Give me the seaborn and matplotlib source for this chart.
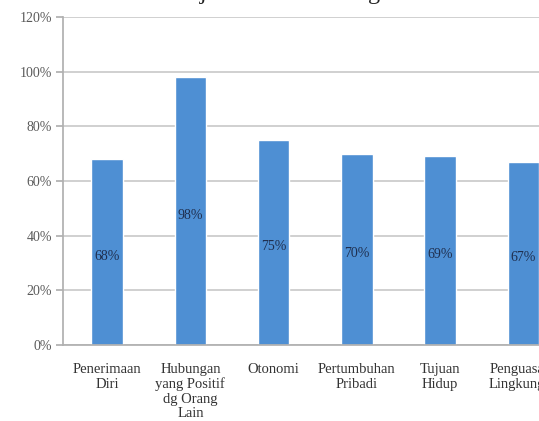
import matplotlib
matplotlib.use("Agg")
import matplotlib.pyplot as plt
import seaborn as sns
import pandas as pd

categories = ["Penerimaan\nDiri", "Hubungan\nyang Positif\ndg Orang\nLain", "Otonomi",
              "Pertumbuhan\nPribadi", "Tujuan\nHidup", "Penguasaan\nLingkungan"]
values = [68, 98, 75, 70, 69, 67]
value_labels = ["68%", "98%", "75%", "70%", "69%", "67%"]
y_ticks = [0, 20, 40, 60, 80, 100, 120]
y_ticklabels = ["0%", "20%", "40%", "60%", "80%", "100%", "120%"]
title = "Kesejahteraan Psikologis"

sns.set_theme(style="white")
plt.rcParams["font.family"] = ["Liberation Serif", "DejaVu Serif"]

W, H = 539, 421
fig = plt.figure(figsize=(W / 100, H / 100), dpi=100)
left_px, right_px, top_px, bottom_px = 63, 565, 17, 345
ax = fig.add_axes([left_px / W, 1 - bottom_px / H, (right_px - left_px) / W, (bottom_px - top_px) / H])

df = pd.DataFrame({"cat": categories, "val": values})
sns.barplot(data=df, x="cat", y="val", color="#4E8FD3", width=0.38, ax=ax, saturation=1)

for i, (v, lab) in enumerate(zip(values, value_labels)):
    ax.text(i, v / 2 - 1.5, lab, ha="center", va="center", fontsize=10, color="#1F2F4F")

ax.set_xlim(-0.53, 5.5)
ax.set_ylim(0, 120)
ax.set_yticks(y_ticks)
ax.set_yticklabels(y_ticklabels, fontsize=10, color="#5A5A5A")
ax.set_xticks(range(len(categories)))
ax.set_xticklabels(categories, fontsize=10.5, color="#333333", linespacing=1.15)
ax.set_xlabel("")
ax.set_ylabel("")
ax.yaxis.grid(True, color="#C8C8C8", linewidth=1.2)
ax.set_axisbelow(True)
for s in ["top", "right"]:
    ax.spines[s].set_visible(False)
ax.spines["left"].set_color("#B0B0B0")
ax.spines["bottom"].set_color("#B0B0B0")
ax.tick_params(axis="y", left=True, length=5, color="#B0B0B0", pad=3)
ax.tick_params(axis="x", bottom=False, pad=7)

fig.text(0.507, 1 + 1 / H, title, ha="center", va="baseline", fontsize=17.5, color="#222222")

fig.savefig("out.png", dpi=100)
